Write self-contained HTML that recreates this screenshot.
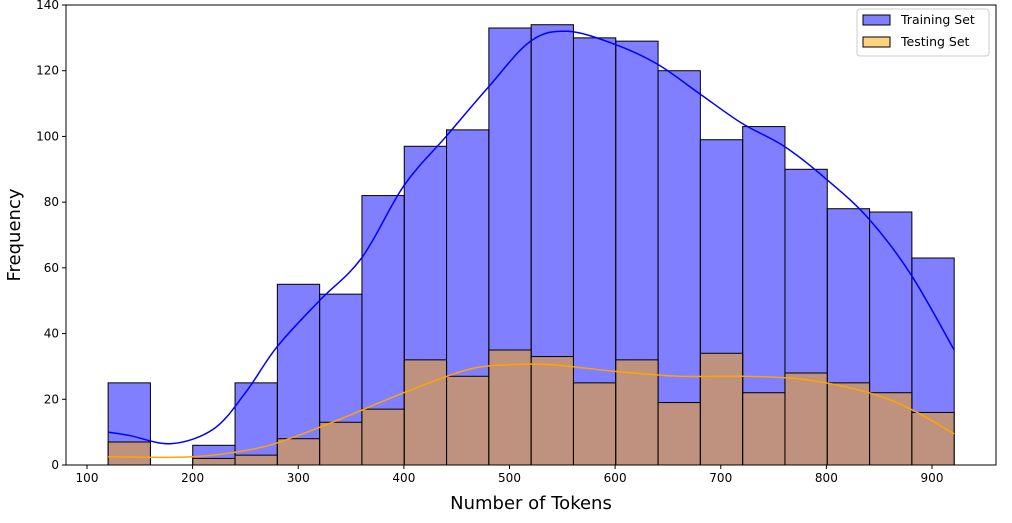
<!DOCTYPE html>
<html><head><meta charset="utf-8"><style>
body{margin:0;background:#fff;font-family:"Liberation Sans","DejaVu Sans",sans-serif}
svg text{font-family:"DejaVu Sans","Liberation Sans",sans-serif}
</style></head><body>
<svg id="chart" width="1012" height="518" viewBox="0 0 1012 518" xmlns="http://www.w3.org/2000/svg"></svg>
<script>
const binStart = 120;
const binWidth = 40.05;
const trainCounts = [25,0,6,25,55,52,82,97,102,133,134,130,129,120,99,103,90,78,77,63];
const testCounts = [7,0,2,3,8,13,17,32,27,35,33,25,32,19,34,22,28,25,22,16];
const trainKdeX = [120,140,180,220,250,280,320,360,400,440,480,520,555,600,640,680,720,760,800,840,880,921];
const trainKdeY = [10,9,6.5,11,22,36,50,63,85,100,115,129,132,128,122,113,104,97,87,75,58,35];
const testKdeX = [120,200,260,300,340,400,460,500,540,600,660,720,780,840,880,921];
const testKdeY = [2.5,2.5,5,9,14,22,29,30.5,30.5,28.5,27,27,26,22,17,9.5];
const xTicks = [100,200,300,400,500,600,700,800,900];
const yTicks = [0,20,40,60,80,100,120,140];

const NS="http://www.w3.org/2000/svg";
const svg=document.getElementById('chart');
const L=66,R=996,T=5,B=465;
const xs=v=>87+(v-100)*1.05625;
const ys=v=>B-v*(460/140);
function mk(tag,attrs,parent){const e=document.createElementNS(NS,tag);for(const k in attrs)e.setAttribute(k,attrs[k]);(parent||svg).appendChild(e);return e;}

function bars(counts,fill,name){
  const g=mk('g',{});
  
  
  counts.forEach((c,i)=>{
    if(c<=0)return;
    const x0=xs(binStart+i*binWidth),x1=xs(binStart+(i+1)*binWidth);
    const r=mk('rect',{x:x0,y:ys(c),width:x1-x0,height:ys(0)-ys(c),fill:fill,'fill-opacity':0.5,stroke:'#000','stroke-width':1},g);
    
    
  });
}
bars(trainCounts,'#0000ff','training');
bars(testCounts,'#ffa500','testing');

function smooth(X,Y){
  const p=X.map((x,i)=>[xs(x),ys(Y[i])]);
  let d='M'+p[0][0]+','+p[0][1];
  for(let i=0;i<p.length-1;i++){
    const p0=p[i-1]||p[i],p1=p[i],p2=p[i+1],p3=p[i+2]||p2;
    d+=' C'+(p1[0]+(p2[0]-p0[0])/6)+','+(p1[1]+(p2[1]-p0[1])/6)+' '+(p2[0]-(p3[0]-p1[0])/6)+','+(p2[1]-(p3[1]-p1[1])/6)+' '+p2[0]+','+p2[1];
  }
  return d;
}
const k1=mk('path',{d:smooth(trainKdeX,trainKdeY),fill:'none',stroke:'#0000ff','stroke-width':1.5});


const k2=mk('path',{d:smooth(testKdeX,testKdeY),fill:'none',stroke:'#ffa500','stroke-width':1.5});



const frame=mk('rect',{x:L,y:T,width:R-L,height:B-T,fill:'none',stroke:'#000','stroke-width':1});



xTicks.forEach(v=>{
  mk('line',{x1:xs(v),x2:xs(v),y1:B,y2:B+4,stroke:'#000'});
  const t=mk('text',{x:xs(v),y:B+17,'text-anchor':'middle','font-size':12});
  t.textContent=v;
  
  
});
yTicks.forEach(v=>{
  mk('line',{x1:L-4,x2:L,y1:ys(v),y2:ys(v),stroke:'#000'});
  const t=mk('text',{x:L-7,y:ys(v)+4,'text-anchor':'end','font-size':12});
  t.textContent=v;
  
  
});
const xl=mk('text',{x:(L+R)/2,y:509,'text-anchor':'middle','font-size':18});
xl.textContent='Number of Tokens';


const yl=mk('text',{x:20,y:235,'text-anchor':'middle','font-size':18,transform:'rotate(-90 20 235)'});
yl.textContent='Frequency';



const lg=mk('g',{});


mk('rect',{x:857,y:9,width:132,height:47,rx:3,fill:'#fff','fill-opacity':0.8,stroke:'#ccc'},lg);
[['Training Set','#0000ff',20],['Testing Set','#ffa500',42]].forEach(([lab,c,y])=>{
  const e=mk('g',{},lg);
  
  
  mk('rect',{x:863,y:y-5,width:27,height:10,fill:c,'fill-opacity':0.5,stroke:'#000'},e);
  const t=mk('text',{x:901,y:y+4,'font-size':12.5},e);
  t.textContent=lab;
});
</script>
</body></html>
